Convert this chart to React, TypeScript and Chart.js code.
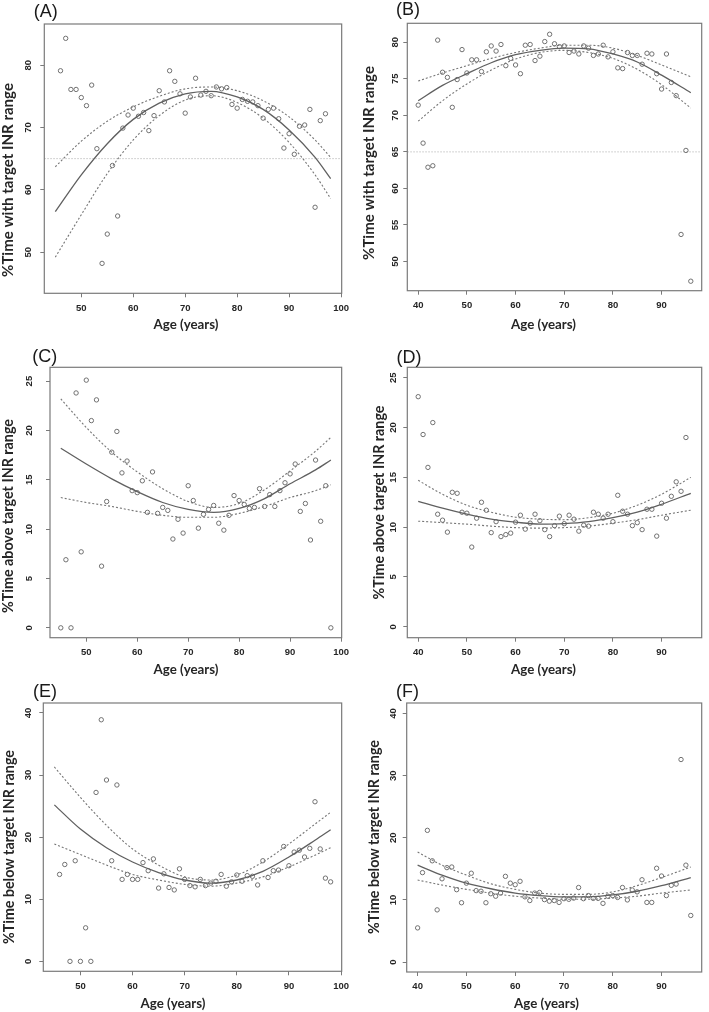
import React, { useEffect, useRef } from "react";
import { Chart, registerables } from "chart.js";

Chart.register(...registerables);

// ---------------- data ----------------
const AGE_A = [46, 47, 48, 49, 50, 51, 52, 53, 54, 55, 56, 57, 58, 59, 60, 61, 62, 63, 64, 65, 66, 67, 68, 69, 70, 71, 72, 73, 74, 75, 76, 77, 78, 79, 80, 81, 82, 83, 84, 85, 86, 87, 88, 89, 90, 91, 92, 93, 94, 95, 96, 97];
const TTR_A = [79.1, 84.3, 76.1, 76.1, 74.8, 73.5, 76.8, 66.6, 48.2, 52.9, 63.9, 55.8, 69.9, 72.0, 73.1, 71.8, 72.4, 69.5, 71.9, 75.9, 74.1, 79.1, 77.4, 75.4, 72.3, 74.9, 77.9, 75.2, 75.8, 75.1, 76.5, 76.2, 76.4, 73.7, 73.1, 74.5, 74.2, 74.1, 73.5, 71.5, 72.9, 73.1, 71.4, 66.7, 69.0, 65.7, 70.2, 70.4, 72.9, 57.2, 71.1, 72.2];

const AGE_B = [40, 41, 42, 43, 44, 45, 46, 47, 48, 49, 50, 51, 52, 53, 54, 55, 56, 57, 58, 59, 60, 61, 62, 63, 64, 65, 66, 67, 68, 69, 70, 71, 72, 73, 74, 75, 76, 77, 78, 79, 80, 81, 82, 83, 84, 85, 86, 87, 88, 89, 90, 91, 92, 93, 94, 95, 96];
const TTR_B = [71.4, 66.2, 62.9, 63.1, 80.3, 75.9, 75.2, 71.1, 74.9, 79.0, 75.8, 77.6, 77.6, 76.0, 78.7, 79.5, 78.8, 79.7, 76.8, 77.8, 76.9, 75.7, 79.6, 79.7, 77.5, 78.1, 80.1, 81.1, 79.8, 79.4, 79.5, 78.6, 78.8, 78.4, 79.5, 79.2, 78.2, 78.4, 79.6, 78.0, 78.7, 76.5, 76.4, 78.6, 78.2, 78.2, 77.0, 78.5, 78.4, 75.7, 73.6, 78.4, 74.5, 72.7, 53.7, 65.2, 47.3];

const AGE_C = [45, 46, 47, 48, 49, 50, 51, 52, 53, 54, 55, 56, 57, 58, 59, 60, 61, 62, 63, 64, 65, 66, 67, 68, 69, 70, 71, 72, 73, 74, 75, 76, 77, 78, 79, 80, 81, 82, 83, 84, 85, 86, 87, 88, 89, 90, 91, 92, 93, 94, 95, 96, 97, 98];
const ABOVE_C = [0, 6.9, 0, 23.8, 7.7, 25.1, 21.0, 23.1, 6.25, 12.8, 17.8, 19.9, 15.7, 16.9, 13.9, 13.7, 14.9, 11.7, 15.8, 11.6, 12.2, 11.9, 9.0, 11.0, 9.6, 14.4, 12.9, 10.1, 11.5, 12.0, 12.4, 10.6, 9.9, 11.4, 13.4, 12.9, 12.5, 12.1, 12.2, 14.1, 12.3, 13.5, 12.3, 13.9, 14.7, 15.6, 16.6, 11.8, 12.6, 8.9, 17.0, 10.8, 14.4, 0];

const AGE_D = [40, 41, 42, 43, 44, 45, 46, 47, 48, 49, 50, 51, 52, 53, 54, 55, 56, 57, 58, 59, 60, 61, 62, 63, 64, 65, 66, 67, 68, 69, 70, 71, 72, 73, 74, 75, 76, 77, 78, 79, 80, 81, 82, 83, 84, 85, 86, 87, 88, 89, 90, 91, 92, 93, 94, 95];
const ABOVE_D = [23.1, 19.3, 16.0, 20.5, 11.3, 10.7, 9.5, 13.5, 13.4, 11.5, 11.4, 8.0, 10.9, 12.5, 11.7, 9.45, 10.55, 9.05, 9.25, 9.4, 10.5, 11.2, 9.8, 10.4, 11.3, 10.65, 9.75, 9.05, 10.15, 11.1, 10.35, 11.2, 10.8, 9.6, 10.2, 10.1, 11.5, 11.3, 10.9, 11.3, 10.55, 13.2, 11.6, 11.3, 10.15, 10.45, 9.75, 11.8, 11.8, 9.1, 12.4, 10.9, 13.1, 14.55, 13.6, 19.0];

const AGE_E = [46, 47, 48, 49, 50, 51, 52, 53, 54, 55, 56, 57, 58, 59, 60, 61, 62, 63, 64, 65, 66, 67, 68, 69, 70, 71, 72, 73, 74, 75, 76, 77, 78, 79, 80, 81, 82, 83, 84, 85, 86, 87, 88, 89, 90, 91, 92, 93, 94, 95, 96, 97, 98];
const BELOW_E = [14.0, 15.6, 0, 16.2, 0, 5.4, 0, 27.2, 38.9, 29.2, 16.2, 28.4, 13.2, 14.0, 13.2, 13.2, 15.9, 14.6, 16.5, 11.8, 14.1, 11.9, 11.5, 14.9, 13.2, 12.2, 12.0, 13.2, 12.2, 12.6, 12.9, 14.0, 12.1, 12.8, 13.9, 12.9, 13.8, 13.7, 12.3, 16.2, 13.5, 14.6, 14.7, 18.5, 15.4, 17.6, 17.9, 16.8, 18.2, 25.7, 18.1, 13.4, 12.8];

const AGE_F = [40, 41, 42, 43, 44, 45, 46, 47, 48, 49, 50, 51, 52, 53, 54, 55, 56, 57, 58, 59, 60, 61, 62, 63, 64, 65, 66, 67, 68, 69, 70, 71, 72, 73, 74, 75, 76, 77, 78, 79, 80, 81, 82, 83, 84, 85, 86, 87, 88, 89, 90, 91, 92, 93, 94, 95, 96];
const BELOW_F = [5.5, 14.4, 21.2, 16.3, 8.4, 13.4, 15.2, 15.3, 11.65, 9.55, 12.7, 14.3, 11.5, 11.4, 9.55, 11.0, 10.6, 11.1, 13.8, 12.7, 12.45, 13.0, 10.5, 9.9, 11.1, 11.2, 10.05, 9.8, 9.9, 9.6, 10.2, 10.1, 10.3, 12.0, 10.2, 10.7, 10.25, 10.25, 9.45, 10.6, 10.7, 10.4, 12.0, 10.0, 11.6, 11.3, 13.25, 9.6, 9.6, 15.1, 13.85, 10.7, 12.35, 12.55, 32.6, 15.6, 7.5];

// fitted curves (read at sampled ages) with confidence bands
const CURVE_AGE_OLD = [45, 50, 55, 60, 65, 70, 75, 80, 85, 90, 95, 98];
const CURVE_AGE_YOUNG = [40, 45, 50, 55, 60, 65, 70, 75, 80, 85, 90, 96];

const FIT_A = [56.5, 62.4, 67.4, 71.3, 73.9, 75.4, 75.8, 74.9, 72.9, 69.6, 65.2, 61.8];
const UPPER_A = [63.7, 67.8, 71.0, 73.3, 75.0, 76.2, 76.5, 75.9, 74.3, 71.7, 68.0, 65.2];
const LOWER_A = [49.2, 56.0, 62.6, 68.0, 71.9, 74.4, 75.1, 74.0, 71.5, 67.6, 62.4, 58.6];

const FIT_B = [72.0, 74.1, 75.7, 77.2, 78.3, 78.9, 79.2, 79.1, 78.4, 77.3, 75.5, 73.1];
const UPPER_B = [74.7, 75.8, 76.8, 77.8, 78.6, 79.2, 79.6, 79.6, 79.2, 78.2, 76.9, 75.3];
const LOWER_B = [69.2, 72.0, 74.3, 76.2, 77.7, 78.6, 78.9, 78.6, 77.8, 76.3, 74.2, 71.0];

const FIT_C = [18.2, 16.6, 15.1, 13.8, 12.7, 12.0, 11.7, 12.1, 13.1, 14.6, 16.0, 17.0];
const UPPER_C = [23.2, 20.3, 17.8, 15.8, 14.1, 12.8, 12.2, 12.6, 14.0, 15.9, 17.9, 19.3];
const LOWER_C = [13.2, 12.7, 12.3, 11.8, 11.4, 11.2, 11.2, 11.6, 12.3, 13.2, 13.9, 14.5];

const FIT_D = [12.6, 11.9, 11.3, 10.8, 10.5, 10.3, 10.35, 10.55, 10.95, 11.5, 12.3, 13.4];
const UPPER_D = [14.7, 13.3, 12.2, 11.5, 11.0, 10.8, 10.75, 10.95, 11.4, 12.2, 13.3, 15.0];
const LOWER_D = [10.6, 10.45, 10.3, 10.1, 9.95, 9.9, 9.95, 10.1, 10.4, 10.75, 11.2, 11.7];

const FIT_E = [25.2, 21.3, 18.3, 16.0, 14.3, 13.1, 12.6, 13.1, 14.5, 16.8, 19.5, 21.2];
const UPPER_E = [31.3, 26.4, 21.9, 18.1, 15.5, 13.6, 13.1, 13.9, 16.0, 18.9, 22.1, 24.0];
const LOWER_E = [18.9, 17.2, 15.5, 14.0, 13.1, 12.4, 12.1, 12.6, 13.6, 15.2, 17.1, 18.3];

const FIT_F = [15.6, 14.0, 12.7, 11.8, 11.1, 10.7, 10.5, 10.5, 10.8, 11.4, 12.3, 13.6];
const UPPER_F = [17.7, 15.6, 14.0, 12.6, 11.7, 11.1, 10.9, 10.9, 11.3, 12.3, 13.6, 15.3];
const LOWER_F = [13.2, 12.4, 11.7, 11.1, 10.6, 10.3, 10.1, 10.1, 10.3, 10.6, 11.1, 11.6];

// ticks
const X_TICKS_OLD = [50, 60, 70, 80, 90, 100];
const X_TICKS_YOUNG = [40, 50, 60, 70, 80, 90];
const Y_TICKS_TTR_A = [50, 60, 70, 80];
const Y_TICKS_TTR_B = [50, 55, 60, 65, 70, 75, 80];
const Y_TICKS_ABOVE = [0, 5, 10, 15, 20, 25];
const Y_TICKS_BELOW = [0, 10, 20, 30, 40];
const TARGET_TTR = 65;

const X_TITLE = "Age (years)";
const Y_TITLE_IN = "%Time with target INR range";
const Y_TITLE_ABOVE = "%Time above target INR range";
const Y_TITLE_BELOW = "%Time below target INR range";

// ---------------- layout / style ----------------
type Rect = { left: number; top: number; width: number; height: number };
type Panel = {
  letter: string;
  canvas: Rect;
  box: { left: number; top: number; right: number; bottom: number };
  xRange: [number, number];
  yRange: [number, number];
  xTicks: number[];
  yTicks: number[];
  ages: number[];
  values: number[];
  curveX: number[];
  fit: number[];
  upper: number[];
  lower: number[];
  refLine: number | null;
  yTitle: string;
  letterPos: [number, number];
  xTitlePos: [number, number];
  yTitlePos: [number, number];
  yTickPad: number;
};

const X_OLD: [number, number] = [42.88, 100.12];
const X_YOUNG: [number, number] = [37.76, 98.24];

const PANELS: Panel[] = [
  {
    letter: "(A)", canvas: { left: 0, top: 0, width: 354, height: 335 },
    box: { left: 44.3, top: 24, right: 343.3, bottom: 293.3 },
    xRange: X_OLD, yRange: [43.4, 86.6], xTicks: X_TICKS_OLD, yTicks: Y_TICKS_TTR_A,
    ages: AGE_A, values: TTR_A, curveX: CURVE_AGE_OLD, fit: FIT_A, upper: UPPER_A, lower: LOWER_A,
    refLine: TARGET_TTR, yTitle: Y_TITLE_IN,
    letterPos: [45.7, 11.7], xTitlePos: [186, 325], yTitlePos: [8.5, 180], yTickPad: 7,
  },
  {
    letter: "(B)", canvas: { left: 354, top: 0, width: 355, height: 335 },
    box: { left: 407.3, top: 23.3, right: 701.7, bottom: 290.7 },
    xRange: X_YOUNG, yRange: [46.0, 82.6], xTicks: X_TICKS_YOUNG, yTicks: Y_TICKS_TTR_B,
    ages: AGE_B, values: TTR_B, curveX: CURVE_AGE_YOUNG, fit: FIT_B, upper: UPPER_B, lower: LOWER_B,
    refLine: TARGET_TTR, yTitle: Y_TITLE_IN,
    letterPos: [408, 10.5], xTitlePos: [543.5, 325], yTitlePos: [369.5, 163], yTickPad: 2.5,
  },
  {
    letter: "(C)", canvas: { left: 0, top: 335, width: 354, height: 345 },
    box: { left: 50, top: 367.3, right: 343.3, bottom: 637.7 },
    xRange: X_OLD, yRange: [-1.0, 26.4], xTicks: X_TICKS_OLD, yTicks: Y_TICKS_ABOVE,
    ages: AGE_C, values: ABOVE_C, curveX: CURVE_AGE_OLD, fit: FIT_C, upper: UPPER_C, lower: LOWER_C,
    refLine: null, yTitle: Y_TITLE_ABOVE,
    letterPos: [44.8, 356.7], xTitlePos: [186, 670], yTitlePos: [8.8, 516], yTickPad: 11,
  },
  {
    letter: "(D)", canvas: { left: 354, top: 335, width: 355, height: 345 },
    box: { left: 407.3, top: 367.3, right: 701.7, bottom: 637.7 },
    xRange: X_YOUNG, yRange: [-1.1, 26.05], xTicks: X_TICKS_YOUNG, yTicks: Y_TICKS_ABOVE,
    ages: AGE_D, values: ABOVE_D, curveX: CURVE_AGE_YOUNG, fit: FIT_D, upper: UPPER_D, lower: LOWER_D,
    refLine: null, yTitle: Y_TITLE_ABOVE,
    letterPos: [409, 358], xTitlePos: [543.5, 670], yTitlePos: [379, 502.5], yTickPad: 4.7,
  },
  {
    letter: "(E)", canvas: { left: 0, top: 680, width: 354, height: 332 },
    box: { left: 43.3, top: 703, right: 343.3, bottom: 971.3 },
    xRange: X_OLD, yRange: [-1.6, 41.6], xTicks: X_TICKS_OLD, yTicks: Y_TICKS_BELOW,
    ages: AGE_E, values: BELOW_E, curveX: CURVE_AGE_OLD, fit: FIT_E, upper: UPPER_E, lower: LOWER_E,
    refLine: null, yTitle: Y_TITLE_BELOW,
    letterPos: [45, 692], xTitlePos: [173, 1003.7], yTitlePos: [9, 847], yTickPad: 5.7,
  },
  {
    letter: "(F)", canvas: { left: 354, top: 680, width: 355, height: 332 },
    box: { left: 406.7, top: 703, right: 701.7, bottom: 972 },
    xRange: X_YOUNG, yRange: [-1.6, 41.7], xTicks: X_TICKS_YOUNG, yTicks: Y_TICKS_BELOW,
    ages: AGE_F, values: BELOW_F, curveX: CURVE_AGE_YOUNG, fit: FIT_F, upper: UPPER_F, lower: LOWER_F,
    refLine: null, yTitle: Y_TITLE_BELOW,
    letterPos: [407.5, 692], xTitlePos: [546.5, 1003.7], yTitlePos: [374.5, 837], yTickPad: 4.4,
  },
];

const POINT_COLOR = "#707070";
const FIT_COLOR = "#606060";
const BAND_COLOR = "#767676";
const BOX_COLOR = "#7a7a7a";
const TEXT_COLOR = "#262626";
const TICK_FONT = { family: "'Liberation Sans', Arial, sans-serif", size: 9.5, weight: "bold" as const };
const TITLE_FAMILY = "Lato, 'Open Sans', sans-serif";
const Y_TITLE_WIDTH = 194;
const X_TITLE_WIDTH = 65;

function drawFitted(ctx: CanvasRenderingContext2D, text: string, x: number, y: number, targetW: number, rotate: boolean) {
  ctx.save();
  const base = 20;
  ctx.font = `bold ${base}px ${TITLE_FAMILY}`;
  const w = ctx.measureText(text).width;
  const size = (base * targetW) / w;
  ctx.font = `bold ${size}px ${TITLE_FAMILY}`;
  ctx.fillStyle = TEXT_COLOR;
  ctx.textAlign = "center";
  ctx.textBaseline = "middle";
  ctx.translate(x, y);
  if (rotate) ctx.rotate(-Math.PI / 2);
  ctx.fillText(text, 0, 0);
  ctx.restore();
}

function PanelChart({ p }: { p: Panel }) {
  const ref = useRef<HTMLCanvasElement | null>(null);
  const c = p.canvas;

  useEffect(() => {
    const canvas = ref.current;
    if (!canvas) return;
    const ox = c.left;
    const oy = c.top;

    const overlay = {
      id: "overlay",
      beforeDatasetsDraw(chart: any) {
        if (p.refLine === null) return;
        const { ctx, chartArea } = chart;
        const yPix = chart.scales.y.getPixelForValue(p.refLine);
        ctx.save();
        ctx.strokeStyle = "#c4c4c4";
        ctx.lineWidth = 1;
        ctx.setLineDash([1.5, 1.5]);
        ctx.beginPath();
        ctx.moveTo(chartArea.left, yPix);
        ctx.lineTo(chartArea.right, yPix);
        ctx.stroke();
        ctx.restore();
      },
      afterDraw(chart: any) {
        const { ctx, chartArea } = chart;
        ctx.save();
        ctx.strokeStyle = BOX_COLOR;
        ctx.lineWidth = 1.2;
        ctx.strokeRect(chartArea.left, chartArea.top, chartArea.right - chartArea.left, chartArea.bottom - chartArea.top);
        ctx.restore();

        ctx.save();
        ctx.fillStyle = "#1a1a1a";
        ctx.font = "18px 'Liberation Sans', Arial, sans-serif";
        ctx.textAlign = "center";
        ctx.textBaseline = "middle";
        ctx.fillText(p.letter, p.letterPos[0] - ox, p.letterPos[1] - oy);
        ctx.restore();

        drawFitted(ctx, X_TITLE, p.xTitlePos[0] - ox, p.xTitlePos[1] - oy, X_TITLE_WIDTH, false);
        drawFitted(ctx, p.yTitle, p.yTitlePos[0] - ox, p.yTitlePos[1] - oy, Y_TITLE_WIDTH, true);
      },
    };

    const pts = p.ages.map((a, i) => ({ x: a, y: p.values[i] }));
    const line = (vals: number[]) => p.curveX.map((a, i) => ({ x: a, y: vals[i] }));

    const chart = new Chart(canvas, {
      type: "scatter",
      data: {
        datasets: [
          {
            data: line(p.fit),
            showLine: true,
            borderColor: FIT_COLOR,
            borderWidth: 1.3,
            pointRadius: 0,
            cubicInterpolationMode: "monotone",
          } as any,
          {
            data: line(p.upper),
            showLine: true,
            borderColor: BAND_COLOR,
            borderWidth: 1.1,
            borderDash: [2, 2],
            pointRadius: 0,
            cubicInterpolationMode: "monotone",
          } as any,
          {
            data: line(p.lower),
            showLine: true,
            borderColor: BAND_COLOR,
            borderWidth: 1.1,
            borderDash: [2, 2],
            pointRadius: 0,
            cubicInterpolationMode: "monotone",
          } as any,
          {
            data: pts,
            showLine: false,
            pointRadius: 2.2,
            pointBorderWidth: 1,
            pointBorderColor: POINT_COLOR,
            pointBackgroundColor: "rgba(0,0,0,0)",
          } as any,
        ],
      },
      options: {
        responsive: false,
        animation: false,
        events: [],
        layout: {
          padding: {
            left: 0,
            top: p.box.top - c.top,
            right: c.left + c.width - p.box.right,
            bottom: 0,
          },
        },
        plugins: {
          legend: { display: false },
          tooltip: { enabled: false },
          title: { display: false },
        },
        scales: {
          x: {
            type: "linear",
            position: "bottom",
            min: p.xRange[0],
            max: p.xRange[1],
            afterBuildTicks: (s: any) => {
              s.ticks = p.xTicks.map((v) => ({ value: v }));
            },
            afterFit: (s: any) => {
              s.height = c.top + c.height - p.box.bottom;
            },
            grid: { display: true, drawOnChartArea: false, drawTicks: true, tickLength: 4, color: BOX_COLOR, lineWidth: 1 },
            border: { display: false },
            ticks: {
              autoSkip: false,
              maxRotation: 0,
              minRotation: 0,
              padding: 5,
              color: TEXT_COLOR,
              font: TICK_FONT,
              callback: (v: any) => String(v),
            },
          },
          y: {
            type: "linear",
            position: "left",
            min: p.yRange[0],
            max: p.yRange[1],
            afterBuildTicks: (s: any) => {
              s.ticks = p.yTicks.map((v) => ({ value: v }));
            },
            afterFit: (s: any) => {
              s.width = p.box.left - c.left;
            },
            grid: { display: true, drawOnChartArea: false, drawTicks: true, tickLength: 4, color: BOX_COLOR, lineWidth: 1 },
            border: { display: false },
            ticks: {
              autoSkip: false,
              minRotation: 90,
              maxRotation: 90,
              crossAlign: "center",
              padding: p.yTickPad,
              color: TEXT_COLOR,
              font: TICK_FONT,
              callback: (v: any) => String(v),
            },
          },
        },
      } as any,
      plugins: [overlay],
    });
    return () => chart.destroy();
  }, [p]);

  return (
    <canvas
      ref={ref}
      width={c.width}
      height={c.height}
      style={{ position: "absolute", left: c.left, top: c.top, width: c.width, height: c.height }}
    />
  );
}

export default function App() {
  return (
    <div style={{ position: "absolute", left: 0, top: 0, width: 709, height: 1012, background: "#ffffff", overflow: "hidden" }}>
      {PANELS.map((p) => (
        <PanelChart key={p.letter} p={p} />
      ))}
    </div>
  );
}
